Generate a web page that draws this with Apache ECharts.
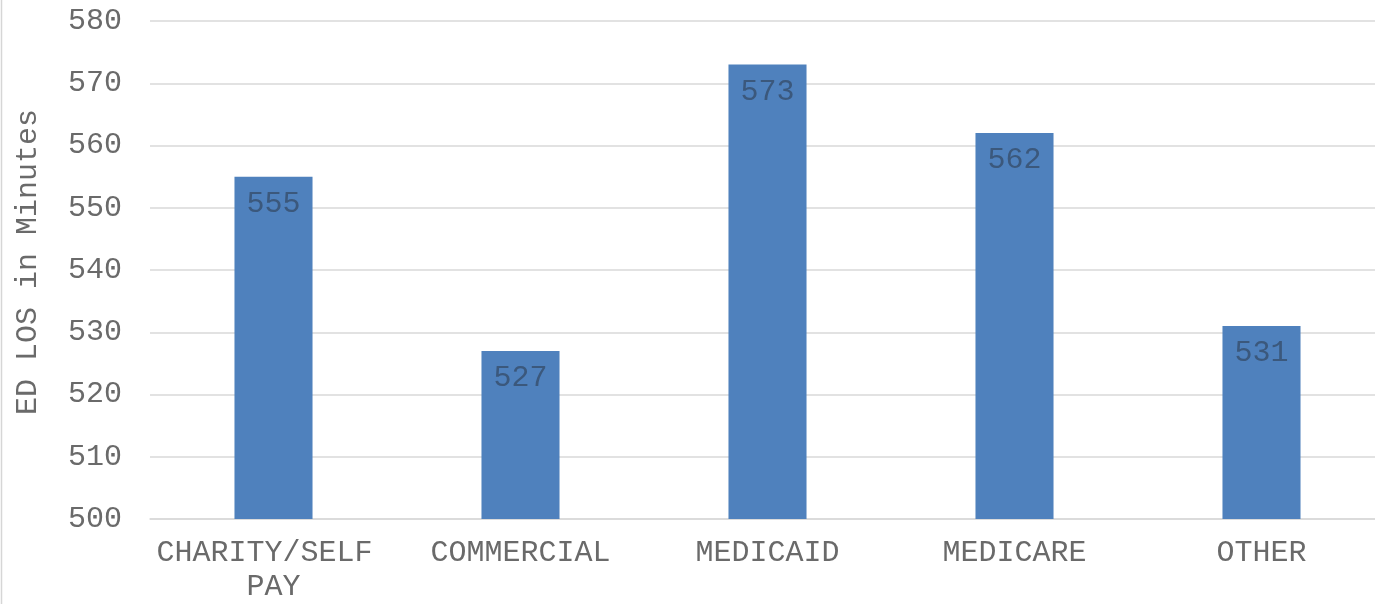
<!DOCTYPE html>
<html>
<head>
<meta charset="utf-8">
<script src="https://cdn.jsdelivr.net/npm/echarts@6/dist/echarts.min.js"></script>
<style>
  html, body { margin: 0; padding: 0; background: #fff; overflow: hidden; }
  /* canvas runs slightly past the window so the gridlines reach the right border */
  #chart { width: 1385px; height: 604px; }
</style>
</head>
<body>
<div id="chart"></div>
<script>
// Emergency department length of stay by payer
const categories = ['CHARITY/SELF PAY', 'COMMERCIAL', 'MEDICAID', 'MEDICARE', 'OTHER'];
const losMinutes = [555, 527, 573, 562, 531];
const yTicks = { min: 500, max: 580, interval: 10 };
const yAxisTitle = 'ED LOS in Minutes';

const FONT = '"Liberation Mono", "Courier New", monospace';
const TEXT = '#6a6a6a';
const FS = 30;

const chart = echarts.init(document.getElementById('chart'), null, { renderer: 'canvas' });
chart.setOption({
  animation: false,
  backgroundColor: '#ffffff',
  grid: { left: 150, right: 0, top: 21, bottom: 83, containLabel: false },
  xAxis: {
    type: 'category',
    data: categories,
    axisLine: { lineStyle: { color: '#d9d9d9', width: 1.5 } },
    axisTick: { show: false },
    axisLabel: {
      color: TEXT, fontFamily: FONT, fontSize: FS, margin: 17,
      lineHeight: 34, width: 235, overflow: 'break', interval: 0
    }
  },
  yAxis: {
    type: 'value',
    min: yTicks.min, max: yTicks.max, interval: yTicks.interval,
    axisLine: { show: false },
    axisTick: { show: false },
    axisLabel: { color: TEXT, fontFamily: FONT, fontSize: FS, margin: 28 },
    splitLine: { lineStyle: { color: '#d9d9d9', width: 1.5 } }
  },
  series: [{
    type: 'bar',
    data: losMinutes,
    barWidth: '31.6%',
    itemStyle: { color: '#4f81bd' },
    label: {
      show: true, position: 'insideTop', distance: 12,
      color: '#3b587c', fontFamily: FONT, fontSize: FS
    }
  }],
  graphic: [
    {
      type: 'line', shape: { x1: 1.5, y1: 0, x2: 1.5, y2: 604 },
      style: { stroke: '#d6d6d6', lineWidth: 1.5 }
    },
    {
      type: 'text', x: 28, y: 262, rotation: Math.PI / 2,
      style: {
        text: yAxisTitle, fill: TEXT, font: FS + 'px ' + FONT,
        align: 'center', verticalAlign: 'middle'
      }
    }
  ]
});
</script>
</body>
</html>
